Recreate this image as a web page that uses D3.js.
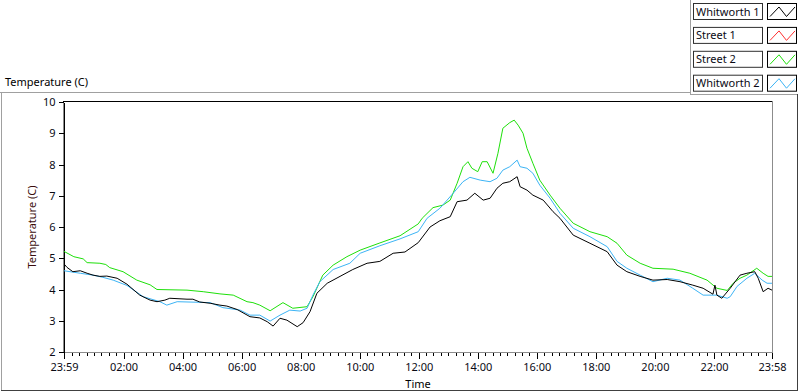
<!DOCTYPE html>
<html>
<head>
<meta charset="utf-8">
<script src="https://cdn.jsdelivr.net/npm/d3@7"></script>
<style>
  body { margin: 0; background: #fff; }
  text { font-family: "Noto Sans", sans-serif; }
</style>
</head>
<body>
<script>

// minutes after midnight (-1 = 23:59 the day before) and temperatures in C
var whitworth1Min = [-1,5,17,32,46,58,72,86,107,127,153,174,188,204,214,249,261,275,296,316,330,351,377,397,412,424,438,452,473,485,499,513,534,560,586,615,641,668,692,719,743,763,784,798,818,834,851,865,879,891,905,920,926,940,952,973,993,1007,1034,1068,1103,1123,1143,1170,1196,1225,1251,1277,1298,1318,1322,1326,1336,1353,1373,1387,1403,1410,1420,1430,1438];
var whitworth1Temp = [4.82,4.71,4.57,4.60,4.52,4.46,4.42,4.43,4.36,4.17,3.82,3.66,3.61,3.66,3.72,3.69,3.69,3.60,3.56,3.50,3.47,3.36,3.13,3.09,2.97,2.83,3.08,3.02,2.81,2.94,3.29,3.88,4.20,4.42,4.64,4.84,4.90,5.16,5.20,5.50,6.00,6.20,6.33,6.81,6.86,7.08,6.86,6.92,7.24,7.40,7.45,7.61,7.29,7.18,7.02,6.86,6.49,6.28,5.74,5.48,5.21,4.78,4.57,4.42,4.30,4.32,4.25,4.14,4.04,3.85,4.14,3.82,3.72,4.04,4.46,4.52,4.57,4.36,3.93,4.04,3.98];

// street 1 has no points on the plot, it only shows in the legend
var street1Min = [];
var street1Temp = [];

var street2Min = [-1,19,38,46,72,84,92,119,147,174,188,249,282,316,343,371,383,397,418,444,464,493,505,525,546,574,601,641,682,719,727,749,769,784,798,810,820,828,840,849,859,871,881,891,905,914,922,932,940,952,966,987,1007,1034,1068,1103,1123,1143,1170,1196,1237,1271,1306,1326,1347,1359,1373,1387,1407,1420,1430,1438];
var street2Temp = [5.22,5.05,4.98,4.86,4.84,4.80,4.70,4.57,4.30,4.15,4.00,3.98,3.93,3.86,3.82,3.61,3.58,3.50,3.32,3.58,3.40,3.45,3.77,4.46,4.78,5.05,5.26,5.49,5.72,6.10,6.28,6.62,6.70,6.86,7.40,7.93,8.09,7.88,7.77,8.09,8.09,7.72,8.36,9.16,9.34,9.42,9.26,9.00,8.52,8.04,7.50,7.02,6.60,6.12,5.85,5.69,5.48,5.10,4.84,4.68,4.65,4.52,4.30,4.04,3.97,4.20,4.36,4.46,4.68,4.52,4.42,4.42];

var whitworth2Min = [-1,32,58,78,99,127,160,194,208,229,275,296,322,357,377,397,418,438,458,479,493,505,519,546,580,601,641,682,719,737,763,790,810,824,845,865,879,891,905,920,926,940,952,966,987,1007,1034,1068,1103,1123,1143,1170,1196,1225,1251,1277,1298,1326,1347,1353,1367,1387,1403,1418,1428,1438];
var whitworth2Temp = [4.60,4.52,4.46,4.39,4.30,4.13,3.77,3.61,3.50,3.61,3.59,3.58,3.42,3.34,3.18,3.18,2.99,3.18,3.34,3.31,3.40,3.82,4.25,4.64,4.84,5.16,5.40,5.62,5.85,6.28,6.60,7.08,7.45,7.59,7.50,7.45,7.56,7.82,7.93,8.14,7.93,7.88,7.72,7.34,6.92,6.44,5.96,5.69,5.37,4.90,4.68,4.46,4.25,4.36,4.30,4.04,3.82,3.82,3.72,3.77,4.10,4.36,4.52,4.30,4.20,4.20];

var seriesNames = ["Whitworth 1", "Street 1", "Street 2", "Whitworth 2"];
var seriesColors = ["#000000", "#ff3030", "#1ee00a", "#3cb4f5"];

var yTicks = [2, 3, 4, 5, 6, 7, 8, 9, 10];
var xMajorTicks = [-1, 120, 240, 360, 480, 600, 720, 840, 960, 1080, 1200, 1320, 1438];

var width = 800,
    height = 392;

var plot = {left: 64, right: 772, top: 102, bottom: 352};
var fontSize = "11px";

var series = [
    d3.zip(whitworth1Min, whitworth1Temp),
    d3.zip(street1Min, street1Temp),
    d3.zip(street2Min, street2Temp),
    d3.zip(whitworth2Min, whitworth2Temp)
];

var svg = d3.select("body").append("svg")
    .attr("width", width)
    .attr("height", height);

var x = d3.scaleLinear()
    .domain([-1, 1438])
    .range([plot.left, plot.right]);

var y = d3.scaleLinear()
    .domain([2, 10])
    .range([plot.bottom, plot.top]);

function clock(m) {
    if (m < 0) m += 1440;
    var h = Math.floor(m / 60), mm = m % 60;
    return (h < 10 ? "0" : "") + h + ":" + (mm < 10 ? "0" : "") + mm;
}

// outer sunken frame
svg.append("line").attr("x1", 0).attr("x2", 690).attr("y1", 92.5).attr("y2", 92.5).attr("stroke", "#a0a0a0");
svg.append("line").attr("x1", 690.5).attr("x2", 690.5).attr("y1", 0).attr("y2", 94).attr("stroke", "#a0a0a0");
svg.append("line").attr("x1", 690).attr("x2", 797).attr("y1", 94.5).attr("y2", 94.5).attr("stroke", "#a0a0a0");
svg.append("line").attr("x1", 1.5).attr("x2", 1.5).attr("y1", 92).attr("y2", 390).attr("stroke", "#a0a0a0");
svg.append("line").attr("x1", 797.5).attr("x2", 797.5).attr("y1", 94).attr("y2", 391).attr("stroke", "#404040");
svg.append("line").attr("x1", 1).attr("x2", 798).attr("y1", 390.5).attr("y2", 390.5).attr("stroke", "#404040");

// graph title
svg.append("text")
    .attr("x", 5)
    .attr("y", 86)
    .style("font-size", fontSize)
    .attr("fill", "#000")
    .text("Temperature (C)");

// plot area frame: gray right / bottom, black top
svg.append("rect")
    .attr("x", plot.left - 0.5)
    .attr("y", plot.top - 0.5)
    .attr("width", plot.right - plot.left + 1)
    .attr("height", plot.bottom - plot.top + 1)
    .attr("fill", "#fff")
    .attr("stroke", "#8c8c8c");

svg.append("line")
    .attr("x1", plot.left - 1).attr("x2", plot.right)
    .attr("y1", plot.top - 0.5).attr("y2", plot.top - 0.5)
    .attr("stroke", "#000");

// y axis
var yAxis = svg.append("g")
    .attr("transform", "translate(" + (plot.left - 0.5) + ",0)")
    .call(d3.axisLeft(y).tickValues(yTicks).tickSize(5).tickSizeOuter(0).tickPadding(3));
yAxis.select(".domain").attr("stroke", "#000").attr("shape-rendering", "crispEdges");
yAxis.selectAll(".tick line").attr("shape-rendering", "crispEdges");
yAxis.selectAll("text").style("font-size", fontSize).style("font-family", "Noto Sans").attr("fill", "#0a0a14");

// x axis minor ticks every 15 minutes
var xMinor = svg.append("g")
    .attr("transform", "translate(0," + (plot.bottom + 1) + ")")
    .call(d3.axisBottom(x).tickValues(d3.range(0, 1438, 15)).tickSize(3).tickSizeOuter(0).tickFormat(""));
xMinor.select(".domain").remove();
xMinor.selectAll(".tick line").attr("shape-rendering", "crispEdges");

// x axis major ticks with clock labels
var xAxis = svg.append("g")
    .attr("transform", "translate(0," + (plot.bottom + 1) + ")")
    .call(d3.axisBottom(x).tickValues(xMajorTicks).tickSize(6).tickSizeOuter(0).tickPadding(4).tickFormat(clock));
xAxis.select(".domain").remove();
xAxis.selectAll(".tick line").attr("shape-rendering", "crispEdges");
xAxis.selectAll("text").style("font-size", fontSize).style("font-family", "Noto Sans").attr("fill", "#0a0a14");

// axis titles
svg.append("text")
    .attr("x", (plot.left + plot.right) / 2)
    .attr("y", 388)
    .attr("text-anchor", "middle")
    .style("font-size", fontSize)
    .text("Time");

svg.append("text")
    .attr("transform", "translate(36," + ((plot.top + plot.bottom) / 2) + ") rotate(-90)")
    .attr("text-anchor", "middle")
    .style("font-size", fontSize)
    .attr("fill", "#3a0c0c")
    .text("Temperature (C)");

// plot lines
svg.append("clipPath")
    .attr("id", "clip")
    .append("rect")
    .attr("x", plot.left)
    .attr("y", plot.top)
    .attr("width", plot.right - plot.left)
    .attr("height", plot.bottom - plot.top);

var line = d3.line()
    .x(function(d) { return x(d[0]); })
    .y(function(d) { return y(d[1]); });

svg.append("g")
    .attr("clip-path", "url(#clip)")
    .selectAll("path")
    .data([2, 3, 0, 1])   // draw order: green, blue, black on top
    .enter()
    .append("path")
    .attr("d", function(i) { return line(series[i]); })
    .attr("fill", "none")
    .attr("stroke", function(i) { return seriesColors[i]; })
    .attr("stroke-width", 1);

// legend
var legend = svg.selectAll(".legend")
    .data(seriesNames)
    .enter().append("g")
    .attr("class", "legend")
    .attr("transform", function(d, i) { return "translate(0," + (i * 23.9) + ")"; });

legend.append("rect")
    .attr("x", 693.5)
    .attr("y", 3.5)
    .attr("width", 69)
    .attr("height", 16)
    .attr("fill", "#fff")
    .attr("stroke", "#303030");

legend.append("text")
    .attr("x", 696)
    .attr("y", 15.5)
    .style("font-size", fontSize)
    .attr("fill", "#0a0a14")
    .text(function(d) { return d; });

legend.append("rect")
    .attr("x", 767.5)
    .attr("y", 3.5)
    .attr("width", 29)
    .attr("height", 16)
    .attr("fill", "#fff")
    .attr("stroke", "#000");

legend.append("path")
    .attr("d", "M770,16.5L779,7L786.5,16.5L795,7")
    .attr("fill", "none")
    .attr("stroke", function(d, i) { return seriesColors[i]; });

</script>
</body>
</html>
